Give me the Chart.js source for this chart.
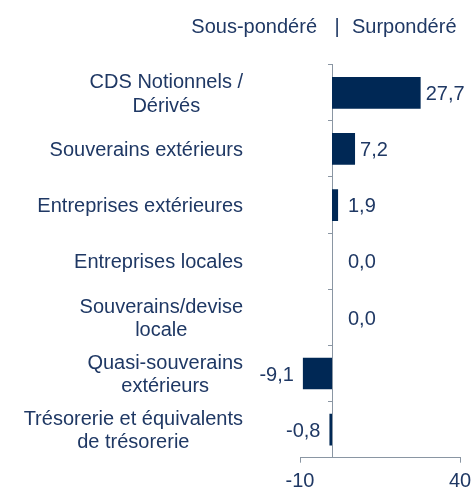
<!DOCTYPE html>
<html><head><meta charset="utf-8">
<script src="https://cdn.jsdelivr.net/npm/chart.js@4"></script>
<style>html,body{margin:0;padding:0;background:#fff;} #wrap{width:473px;height:490px;position:relative}</style>
</head><body><div id="wrap"><canvas id="c"></canvas></div>
<script>
const categories = [
  ["CDS Notionnels /", "Dérivés"],
  ["Souverains extérieurs"],
  ["Entreprises extérieures"],
  ["Entreprises locales"],
  ["Souverains/devise", "locale"],
  ["Quasi-souverains", "extérieurs"],
  ["Trésorerie et équivalents", "de trésorerie"]
];
const values = [27.7, 7.2, 1.9, 0.0, 0.0, -9.1, -0.8];
const xTickValues = [-10, 40];
const headerLeft = "Sous-pondéré";
const headerSep = "|";
const headerRight = "Surpondéré";

const TEXT = '#1f3864';
const BAR = '#002855';
const AXIS = '#8a96a3';
const FONT = "'Liberation Sans', Arial, sans-serif";
const FS = 20;

const labelPlugin = {
  id: 'labels',
  afterDatasetsDraw(chart) {
    const ctx = chart.ctx;
    const xs = chart.scales.x, ys = chart.scales.y;
    const zero = xs.getPixelForValue(0);
    ctx.save();
    ctx.font = FS + 'px ' + FONT;
    ctx.fillStyle = TEXT;
    ctx.textBaseline = 'alphabetic';
    const cap = FS * 0.716 / 2;
    const lh = 23.3;
    const right = zero - 89;
    categories.forEach((lines, i) => {
      const c = ys.getPixelForValue(i);
      const w = Math.max(...lines.map(l => ctx.measureText(l).width));
      const cx = right - w / 2;
      ctx.textAlign = 'center';
      lines.forEach((l, j) => {
        const y = c + (j - (lines.length - 1) / 2) * lh + cap;
        ctx.fillText(l, cx, y);
      });
    });
    const meta = chart.getDatasetMeta(0);
    values.forEach((v, i) => {
      const bar = meta.data[i];
      const txt = v.toFixed(1).replace('.', ',');
      const y = bar.y + cap;
      if (v < 0) { ctx.textAlign = 'right'; ctx.fillText(txt, bar.x - 9, y); }
      else { ctx.textAlign = 'left'; ctx.fillText(txt, Math.max(bar.x + 5, zero + 16), y); }
    });
    ctx.textAlign = 'right'; ctx.fillText(headerLeft, zero - 15, 33);
    ctx.textAlign = 'center'; ctx.fillText(headerSep, zero + 5, 33);
    ctx.textAlign = 'left'; ctx.fillText(headerRight, zero + 20, 33);
    ctx.restore();
  }
};

new Chart(document.getElementById('c'), {
  type: 'bar',
  data: {
    labels: categories,
    datasets: [{ data: values, backgroundColor: BAR, borderWidth: 0, barPercentage: 0.565, categoryPercentage: 1 }]
  },
  options: {
    indexAxis: 'y',
    responsive: true, maintainAspectRatio: false, animation: false,
    layout: { padding: { left: 300, right: 13, top: 64.7, bottom: 0 } },
    plugins: { legend: { display: false }, tooltip: { enabled: false } },
    scales: {
      x: {
        type: 'linear', min: -10, max: 40, position: 'bottom',
        afterBuildTicks: s => { s.ticks = xTickValues.map(v => ({ value: v })); },
        ticks: { color: TEXT, font: { family: FONT, size: FS }, padding: 7, callback: v => String(v), autoSkip: false, maxRotation: 0 },
        grid: { display: true, drawOnChartArea: false, drawTicks: true, tickLength: 5, color: AXIS },
        border: { display: true, color: AXIS, width: 1 },
        afterFit: s => { s.height = 32.3; s.paddingLeft = 0; s.paddingRight = 0; }
      },
      y: {
        type: 'category', position: { x: 0 }, offset: true,
        ticks: { display: false },
        grid: { display: true, offset: true, drawOnChartArea: false, drawTicks: true, tickLength: 4, color: AXIS },
        border: { display: true, color: AXIS, width: 1 }
      }
    }
  },
  plugins: [labelPlugin]
});
</script>
</body></html>
